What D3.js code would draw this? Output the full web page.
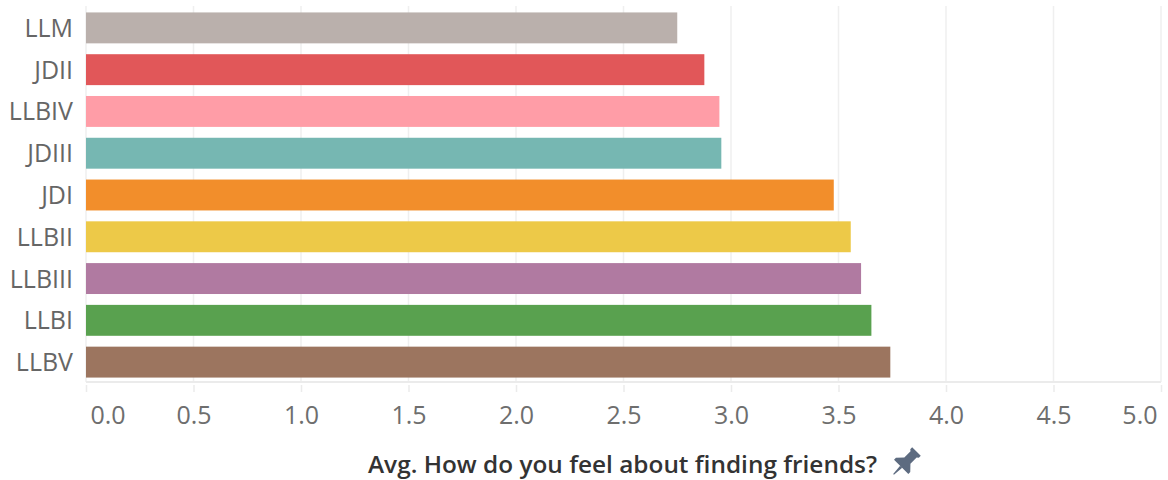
<!DOCTYPE html>
<html>
<head>
<meta charset="utf-8">
<script src="https://cdn.jsdelivr.net/npm/d3@7"></script>
<style>
  body { margin: 0; background: #fff; }
  svg { display: block; font-family: "Open Sans", sans-serif; }
</style>
</head>
<body>
<svg id="chart" width="1168" height="480"></svg>
<script>
const categories = ['LLM', 'JDII', 'LLBIV', 'JDIII', 'JDI', 'LLBII', 'LLBIII', 'LLBI', 'LLBV'];
const values = [2.750, 2.876, 2.946, 2.955, 3.478, 3.557, 3.605, 3.653, 3.741];
const colors = ['#bab0ac', '#e15759', '#ff9da7', '#76b7b2', '#f28e2b', '#edc948', '#b07aa1', '#59a14f', '#9c755f'];
const tickValues = [0, 0.5, 1, 1.5, 2, 2.5, 3, 3.5, 4, 4.5, 5];
const axisTitle = 'Avg. How do you feel about finding friends?';

const data = categories.map((c, i) => ({name: c, value: values[i], color: colors[i]}));

const svg = d3.select('#chart');
const plotLeft = 86, plotRight = 1161, plotTop = 7, plotBottom = 383;

const x = d3.scaleLinear().domain([0, 5]).range([plotLeft, plotRight]);
const y = d3.scaleBand()
    .domain(categories)
    .range([plotTop, plotBottom])
    .paddingInner(0.26)
    .paddingOuter(0.13);

// gridlines
svg.append('g')
    .selectAll('line')
    .data(tickValues)
    .join('line')
    .attr('x1', d => x(d)).attr('x2', d => x(d))
    .attr('y1', 6).attr('y2', 382)
    .attr('stroke', '#efefef')
    .attr('stroke-width', 1.5);

// bars
svg.append('g')
    .selectAll('rect')
    .data(data)
    .join('rect')
    .attr('x', x(0))
    .attr('y', d => y(d.name))
    .attr('width', d => x(d.value) - x(0))
    .attr('height', y.bandwidth())
    .attr('fill', d => d.color);

// category labels
svg.append('g')
    .selectAll('text')
    .data(data)
    .join('text')
    .attr('x', 73)
    .attr('y', d => y(d.name) + y.bandwidth() / 2 + 9)
    .attr('text-anchor', 'end')
    .attr('font-size', 25)
    .attr('fill', '#666')
    .text(d => d.name);

// x axis
const xAxis = d3.axisBottom(x)
    .tickValues(tickValues)
    .tickFormat(d3.format('.1f'))
    .tickSize(9)
    .tickPadding(0);

const ax = svg.append('g')
    .attr('transform', `translate(0,${plotBottom})`)
    .call(xAxis);

ax.select('.domain')
    .attr('d', `M${plotLeft},-1H${plotRight}`)
    .attr('stroke', '#ebebeb')
    .attr('stroke-width', 2);
ax.selectAll('.tick line')
    .attr('stroke', '#ebebeb')
    .attr('stroke-width', 1.5)
    .attr('y1', 2);
ax.selectAll('.tick text')
    .attr('font-family', '"Open Sans", sans-serif')
    .attr('font-size', 25)
    .attr('fill', '#6e6e6e')
    .attr('dy', null)
    .attr('y', 41)
    .attr('text-anchor', d => d === 0 ? 'start' : d === 5 ? 'end' : 'middle')
    .attr('dx', d => d === 0 ? 4 : d === 5 ? -4 : 0);

// axis title
svg.append('text')
    .attr('x', 368)
    .attr('y', 473)
    .attr('font-size', 23)
    .attr('font-weight', 600)
    .attr('fill', '#333')
    .attr('textLength', 509)
    .attr('lengthAdjust', 'spacingAndGlyphs')
    .text(axisTitle);

// pin icon
const pin = svg.append('g')
    .attr('transform', 'translate(905,463) rotate(45) scale(1.35)')
    .attr('fill', '#5d6b80');
pin.append('path')
    .attr('d', 'M-4.5,-12 L4.5,-12 L4.5,-10 L3.2,-9 L3.2,-2.5 L7.5,2 L7.5,4 L-7.5,4 L-7.5,2 L-3.2,-2.5 L-3.2,-9 L-4.5,-10 Z');
pin.append('path')
    .attr('d', 'M-1.1,4 L1.1,4 L0.4,12 L-0.4,12 Z');
</script>
</body>
</html>
